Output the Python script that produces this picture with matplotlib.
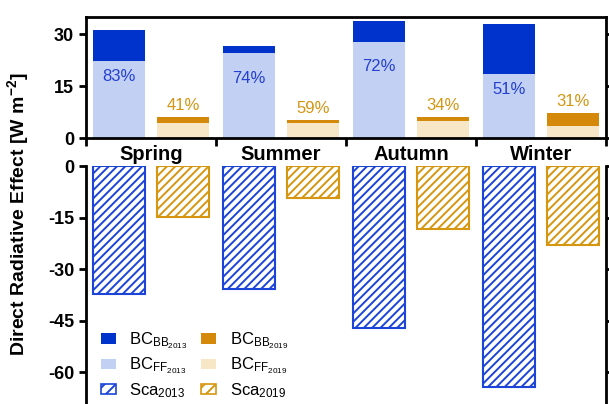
import matplotlib
matplotlib.use("Agg")
import matplotlib.pyplot as plt
from matplotlib.patches import Patch
import numpy as np

plt.rcParams['font.family'] = ['Liberation Sans', 'DejaVu Sans']
plt.rcParams['mathtext.fontset'] = 'custom'
plt.rcParams['mathtext.rm'] = 'Liberation Sans'
plt.rcParams['mathtext.it'] = 'Liberation Sans:italic'
plt.rcParams['mathtext.bf'] = 'Liberation Sans:bold'
plt.rcParams['hatch.linewidth'] = 1.4
plt.rcParams['axes.unicode_minus'] = False

# seasonal direct radiative effect (W m-2)
seasons = ['Spring', 'Summer', 'Autumn', 'Winter']
bc_total_2013 = [31.1, 26.6, 33.9, 33.1]
bc_ff_2013 = [22.2, 24.5, 27.7, 18.6]
bc_total_2019 = [6.0, 5.2, 6.0, 7.1]
bc_ff_2019 = [4.4, 4.3, 4.95, 3.6]
sca_2013 = [-37.4, -35.9, -47.1, -64.4]
sca_2019 = [-14.9, -9.4, -18.3, -23.1]
pct_2013 = ['83%', '74%', '72%', '51%']
pct_2019 = ['41%', '59%', '34%', '31%']
pct_2013_y = [17.7, 17.2, 20.7, 14.0]

bc_bb_2013 = [t - f for t, f in zip(bc_total_2013, bc_ff_2013)]
bc_bb_2019 = [t - f for t, f in zip(bc_total_2019, bc_ff_2019)]

c_bb13 = '#0033cc'
c_ff13 = '#c2d0f3'
c_bb19 = '#d4890a'
c_ff19 = '#f7e7c6'
c_sca13 = '#1d44d8'
c_sca19 = '#d6960f'
c_txt13 = '#2340d0'
c_txt19 = '#d49512'

x = np.arange(len(seasons))
w = 0.405
off = 0.245

fig = plt.figure(figsize=(6.09, 4.04), dpi=100)
ax1 = fig.add_axes([0.1412, 0.6584, 0.8539, 0.2995])
ax2 = fig.add_axes([0.1412, 0.0, 0.8539, 0.5891])

# top panel: stacked BC bars
ax1.bar(x - off, bc_ff_2013, w, color=c_ff13)
ax1.bar(x - off, bc_bb_2013, w, bottom=bc_ff_2013, color=c_bb13)
ax1.bar(x + off, bc_ff_2019, w, color=c_ff19)
ax1.bar(x + off, bc_bb_2019, w, bottom=bc_ff_2019, color=c_bb19)
for i in range(len(seasons)):
    ax1.text(x[i] - off, pct_2013_y[i], pct_2013[i], ha='center', va='center',
             fontsize=12, color=c_txt13)
    ax1.text(x[i] + off, bc_total_2019[i] + 1.2, pct_2019[i], ha='center',
             va='bottom', fontsize=12, color=c_txt19)

ax1.set_xlim(-0.5, len(seasons) - 0.5)
ax1.set_ylim(0, 35)
ax1.set_yticks([0, 15, 30])
ax1.set_xticks(x)
ax1.set_xticklabels(seasons, fontsize=14.5, fontweight='bold')
ax1.set_xticks(np.arange(len(seasons) + 1) - 0.5, minor=True)
ax1.tick_params(axis='x', which='major', length=0, pad=5)
ax1.tick_params(axis='x', which='minor', length=6, width=2, direction='out')
ax1.tick_params(axis='y', length=5, width=2, labelsize=13, right=True)

# bottom panel: scattering aerosol bars
ax2.bar(x - off, sca_2013, w, color='white', edgecolor=c_sca13, hatch='////', linewidth=1.5)
ax2.bar(x + off, sca_2019, w, color='white', edgecolor=c_sca19, hatch='////', linewidth=1.5)
ax2.set_xlim(-0.5, len(seasons) - 0.5)
ax2.set_ylim(-69.3, 0)
ax2.set_yticks([0, -15, -30, -45, -60])
ax2.set_xticks([])
ax2.tick_params(axis='y', length=5, width=2, labelsize=13, right=True)
ax2.spines['top'].set_visible(False)
ax2.spines['bottom'].set_visible(False)

for ax in (ax1, ax2):
    for s in ax.spines.values():
        s.set_linewidth(2)
    for lab in ax.get_yticklabels():
        lab.set_fontweight('bold')

handles = [
    Patch(facecolor=c_bb13, edgecolor='none'),
    Patch(facecolor=c_ff13, edgecolor='none'),
    Patch(facecolor='white', edgecolor=c_sca13, hatch='///', linewidth=1.2),
    Patch(facecolor=c_bb19, edgecolor='none'),
    Patch(facecolor=c_ff19, edgecolor='none'),
    Patch(facecolor='white', edgecolor=c_sca19, hatch='///', linewidth=1.2),
]
labels = [
    r'BC$_{\mathregular{BB}_{2013}}$',
    r'BC$_{\mathregular{FF}_{2013}}$',
    r'Sca$_{2013}$',
    r'BC$_{\mathregular{BB}_{2019}}$',
    r'BC$_{\mathregular{FF}_{2019}}$',
    r'Sca$_{2019}$',
]
ax2.legend(handles, labels, ncol=2, frameon=False, fontsize=12,
           loc='lower left', bbox_to_anchor=(0.0, -0.045),
           handlelength=0.9, handleheight=0.6, handletextpad=0.8,
           columnspacing=0.8, labelspacing=0.28)

fig.text(0.03, 0.47, r'Direct Radiative Effect [W m$^{\mathbf{-2}}$]', rotation=90,
         ha='center', va='center', fontsize=14, fontweight='bold')

fig.savefig('out.png', dpi=100)
